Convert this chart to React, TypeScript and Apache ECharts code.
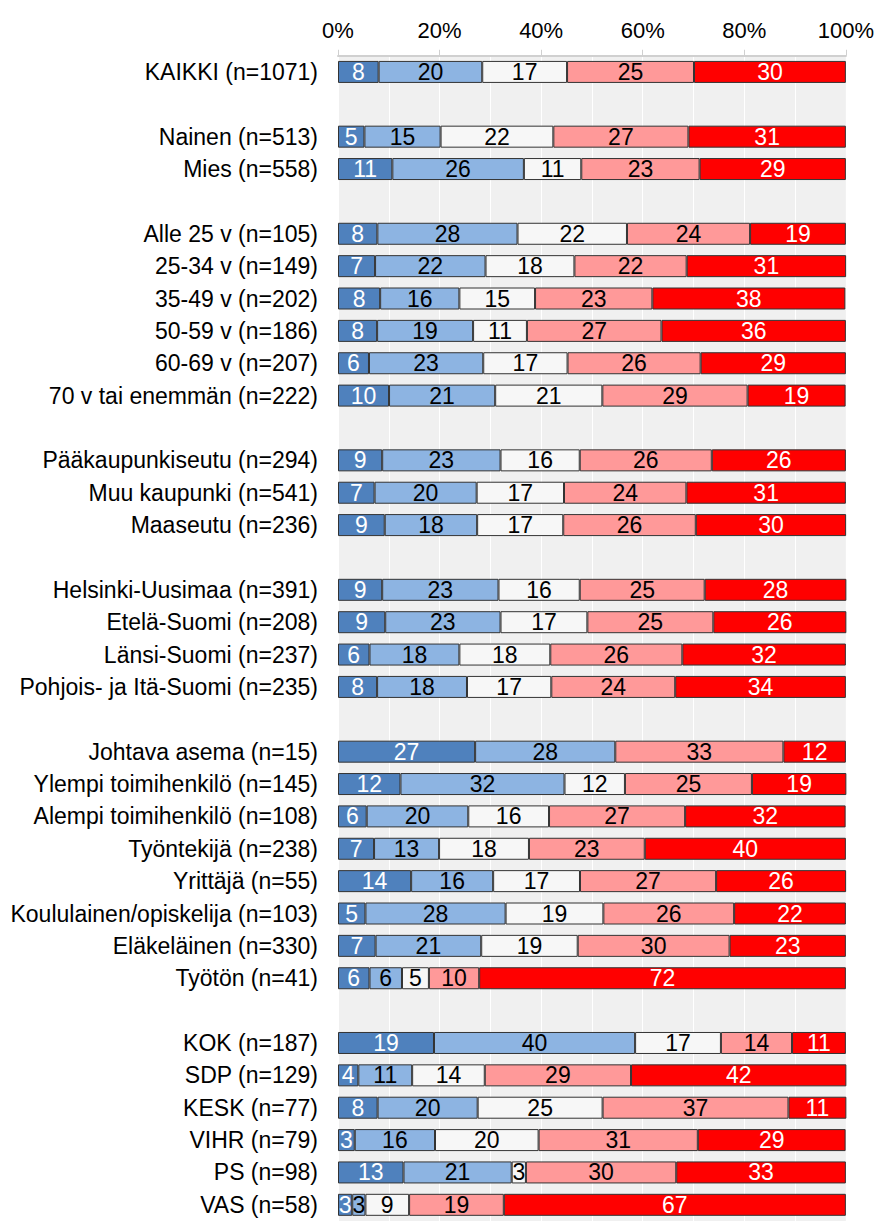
import React, { useEffect, useRef } from 'react';
import * as echarts from 'echarts';

const categories: string[] = [
  'KAIKKI (n=1071)',
  '',
  'Nainen (n=513)',
  'Mies (n=558)',
  '',
  'Alle 25 v (n=105)',
  '25-34 v (n=149)',
  '35-49 v (n=202)',
  '50-59 v (n=186)',
  '60-69 v (n=207)',
  '70 v tai enemmän (n=222)',
  '',
  'Pääkaupunkiseutu (n=294)',
  'Muu kaupunki (n=541)',
  'Maaseutu (n=236)',
  '',
  'Helsinki-Uusimaa (n=391)',
  'Etelä-Suomi (n=208)',
  'Länsi-Suomi (n=237)',
  'Pohjois- ja Itä-Suomi (n=235)',
  '',
  'Johtava asema (n=15)',
  'Ylempi toimihenkilö (n=145)',
  'Alempi toimihenkilö (n=108)',
  'Työntekijä (n=238)',
  'Yrittäjä (n=55)',
  'Koululainen/opiskelija (n=103)',
  'Eläkeläinen (n=330)',
  'Työtön (n=41)',
  '',
  'KOK (n=187)',
  'SDP (n=129)',
  'KESK (n=77)',
  'VIHR (n=79)',
  'PS (n=98)',
  'VAS (n=58)',
];

const darkBlue: (number | null)[] = [
  8.0, null, 5.2, 10.7, null, 7.75, 7.3, 8.3, 7.7, 6.1, 10.05, null, 8.7, 7.2, 9.2, null,
  8.7, 9.3, 6.2, 7.7, null, 27.0, 12.3, 5.65, 7.1, 14.4, 5.4, 7.4, 6.2, null,
  18.9, 4.0, 7.8, 3.3, 12.9, 2.8,
];
const lightBlue: (number | null)[] = [
  20.4, null, 15.0, 25.9, null, 27.6, 21.75, 15.6, 18.9, 22.5, 20.9, null, 23.3, 20.1, 18.2, null,
  22.9, 22.7, 17.7, 17.7, null, 27.6, 32.3, 20.0, 12.8, 16.15, 27.6, 20.8, 6.4, null,
  39.6, 10.6, 19.7, 15.8, 21.3, 2.6,
];
const neutral: (number | null)[] = [
  16.7, null, 22.2, 11.3, null, 21.55, 17.5, 14.9, 10.6, 16.6, 21.1, null, 15.6, 17.2, 16.95, null,
  16.0, 17.1, 17.9, 16.6, null, null, 11.9, 15.9, 17.7, 17.1, 19.25, 19.0, 5.3, null,
  16.9, 14.3, 24.6, 20.4, 2.8, 8.6,
];
const pink: (number | null)[] = [
  25.0, null, 26.6, 23.3, null, 24.24, 22.1, 23.1, 26.5, 26.2, 28.6, null, 26.0, 24.1, 26.1, null,
  24.6, 24.8, 26.0, 24.4, null, 33.1, 25.0, 26.8, 22.8, 26.8, 25.75, 29.9, 9.9, null,
  14.0, 28.8, 36.6, 31.35, 29.6, 18.65,
];
const red: (number | null)[] = [
  29.9, null, 31.0, 28.8, null, 18.86, 31.4, 38.0, 36.3, 28.6, 19.3, null, 26.4, 31.4, 29.6, null,
  27.9, 26.2, 32.2, 33.6, null, 12.3, 18.6, 31.6, 39.6, 25.6, 22.0, 22.9, 72.2, null,
  10.6, 42.4, 11.4, 29.1, 33.4, 67.35,
];

const seriesDefs = [
  { name: '1', data: darkBlue, color: '#4F81BD', text: '#FFFFFF' },
  { name: '2', data: lightBlue, color: '#8DB4E2', text: '#000000' },
  { name: '3', data: neutral, color: '#F7F7F7', text: '#000000' },
  { name: '4', data: pink, color: '#FF9999', text: '#000000' },
  { name: '5', data: red, color: '#FF0000', text: '#FFFFFF' },
];

const FONT = 'Liberation Sans, Arial, sans-serif';

export default function App() {
  const ref = useRef<HTMLDivElement>(null);
  useEffect(() => {
    if (!ref.current) return;
    const chart = echarts.init(ref.current, null, { renderer: 'svg' });
    chart.setOption({
      animation: false,
      backgroundColor: '#FFFFFF',
      grid: {
        left: 338,
        right: 31,
        top: 55.75,
        bottom: -4.5,
        show: true,
        backgroundColor: '#F0F0F0',
        borderWidth: 0,
        containLabel: false,
      },
      xAxis: {
        type: 'value',
        position: 'top',
        min: 0,
        max: 100,
        interval: 20,
        axisLabel: {
          formatter: '{value}%',
          fontSize: 22,
          color: '#000000',
          fontFamily: FONT,
          margin: 14,
        },
        axisLine: { show: true, lineStyle: { color: '#D0D0D0', width: 2 } },
        axisTick: { show: true, length: 6, lineStyle: { color: '#D0D0D0', width: 1 } },
        splitLine: { show: true, lineStyle: { color: '#FFFFFF', width: 1 } },
        minorTick: { show: false, splitNumber: 2 },
        minorSplitLine: { show: true, lineStyle: { color: '#FFFFFF', width: 1 } },
      },
      yAxis: {
        type: 'category',
        inverse: true,
        data: categories,
        axisLine: { show: false },
        axisTick: { show: false },
        splitLine: { show: false },
        axisLabel: {
          interval: 0,
          fontSize: 23,
          color: '#000000',
          fontFamily: FONT,
          margin: 20,
        },
      },
      series: seriesDefs.map((s) => ({
        name: s.name,
        type: 'bar',
        stack: 'total',
        barWidth: 22,
        data: s.data,
        itemStyle: { color: s.color, borderColor: '#333333', borderWidth: 1 },
        label: {
          show: true,
          position: 'inside',
          color: s.text,
          fontSize: 23,
          fontFamily: FONT,
          formatter: (p: any) =>
            p.value == null || p.value === 0 ? '' : String(Math.round(p.value)),
        },
        emphasis: { disabled: true },
      })),
    });
    return () => chart.dispose();
  }, []);
  return (
    <div
      ref={ref}
      style={{ position: 'absolute', left: 0, top: 0, width: 877, height: 1221 }}
    />
  );
}
